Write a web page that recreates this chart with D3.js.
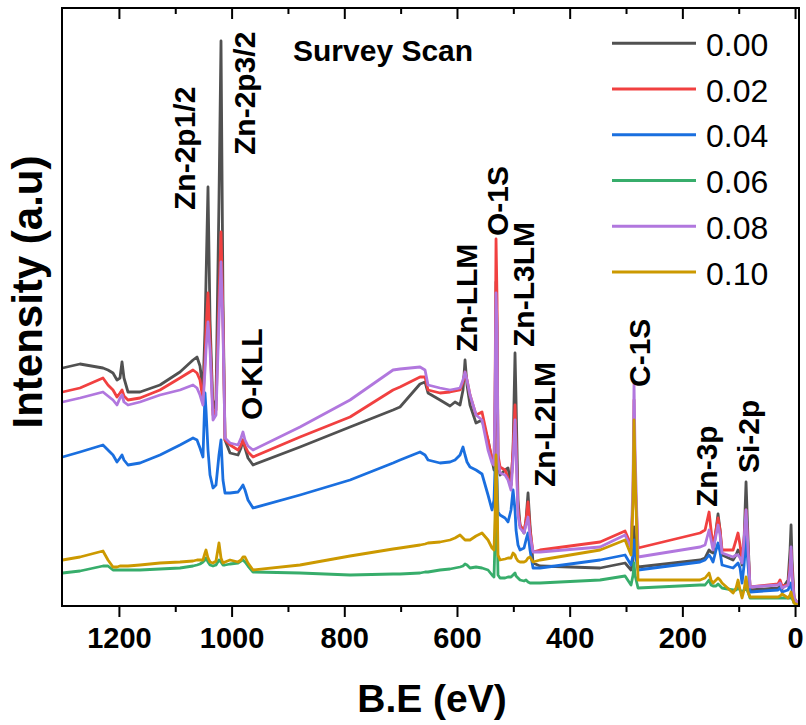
<!DOCTYPE html>
<html>
<head>
<meta charset="utf-8">
<script src="https://cdn.jsdelivr.net/npm/d3@7"></script>
<style>
  body { margin: 0; background: #fff; }
  text { font-family: "Liberation Sans", Arial, sans-serif; }
</style>
</head>
<body>
<div id="chart"></div>
<script>
// binding energy grid (eV), shared by all six spectra
const bindingEnergy = [1300, 1269.1, 1228.3, 1219.4, 1210.5, 1203.4, 1198.1, 1194.5, 1191.0, 1183.9,
  1162.6, 1127.1, 1091.6, 1068.5, 1061.4, 1056.1, 1050.8, 1047.2, 1045.4, 1041.9,
  1038.3, 1033.0, 1027.7, 1022.4, 1018.8, 1015.3, 1011.7, 1002.8, 988.6, 983.3,
  979.8, 976.2, 970.9, 962.0, 878.6, 789.8, 713.5, 701.1, 665.6, 656.7,
  651.4, 630.1, 612.4, 603.5, 594.6, 589.3, 585.7, 582.2, 576.9, 566.2,
  555.6, 544.9, 537.8, 534.3, 532.5, 530.7, 528.9, 527.2, 523.6, 514.7,
  509.4, 504.1, 500.5, 497.0, 495.2, 491.7, 488.1, 481.0, 477.5, 473.9,
  470.4, 465.0, 452.6, 346.1, 301.7, 291.1, 287.5, 285.8, 284.0, 278.7,
  168.6, 159.7, 152.6, 149.1, 145.5, 140.2, 136.7, 133.1, 129.6, 110.0,
  104.7, 101.2, 97.6, 94.1, 90.5, 87.0, 83.4, 79.9, 30.2, 26.6,
  23.1, 12.4, 8.9, 7.1, 5.3, 1.8, -5.3];

// intensities (a.u.)
const int000 = [238, 242, 238, 236, 233, 226, 228, 244, 228, 214,
  214, 221, 234, 246, 249, 240, 216, 276, 326, 419,
  286, 196, 206, 406, 565, 306, 166, 153, 151, 158,
  166, 158, 148, 141, 159, 179, 196, 199, 222, 224,
  213, 206, 200, 204, 201, 216, 246, 221, 201, 183,
  186, 166, 146, 136, 186, 324, 276, 146, 131, 136,
  138, 121, 156, 253, 206, 106, 81, 73, 86, 113,
  81, 43, 40, 38, 43, 36, 46, 79, 61, 39,
  46, 48, 56, 54, 53, 76, 92, 76, 51, 46,
  51, 56, 53, 41, 66, 124, 66, 16, 18, 20,
  17, 26, 56, 81, 46, 8, 2];

const int002 = [214, 218, 228, 221, 216, 209, 213, 216, 210, 206,
  208, 216, 228, 236, 233, 226, 206, 246, 276, 313,
  266, 191, 196, 306, 374, 286, 166, 161, 156, 161,
  166, 160, 154, 149, 169, 189, 216, 219, 229, 229,
  216, 213, 214, 215, 216, 224, 234, 226, 211, 191,
  194, 166, 146, 141, 206, 367, 306, 151, 139, 136,
  128, 121, 156, 201, 166, 96, 81, 74, 86, 104,
  76, 54, 56, 64, 75, 61, 106, 206, 126, 58,
  73, 76, 94, 76, 59, 76, 88, 76, 56, 56,
  66, 73, 61, 46, 66, 96, 56, 19, 22, 26,
  20, 21, 41, 56, 36, 8, 2];

const int004 = [149, 154, 161, 156, 151, 144, 148, 151, 146, 141,
  143, 151, 161, 168, 166, 158, 149, 213, 196, 156,
  131, 118, 121, 151, 166, 126, 113, 113, 114, 118,
  121, 116, 106, 98, 111, 126, 143, 146, 154, 151,
  146, 143, 144, 146, 151, 159, 151, 144, 139, 136,
  132, 111, 96, 106, 136, 146, 126, 94, 91, 88,
  84, 96, 116, 96, 76, 61, 56, 58, 66, 73,
  56, 38, 38, 46, 51, 41, 51, 66, 54, 36,
  44, 46, 51, 48, 44, 56, 63, 54, 41, 38,
  41, 43, 38, 23, 41, 69, 41, 14, 16, 18,
  14, 16, 21, 23, 16, 6, 2];

const int006 = [33, 35, 40, 40, 36, 36, 36, 36, 36, 36,
  36, 37, 38, 40, 41, 42, 44, 46, 48, 44,
  41, 40, 41, 46, 44, 41, 41, 42, 43, 45,
  46, 44, 40, 34, 33, 31, 32, 32, 33, 34,
  34, 36, 37, 38, 39, 40, 42, 41, 38, 39,
  38, 36, 31, 29, 66, 141, 86, 31, 28, 28,
  29, 29, 31, 33, 30, 28, 26, 25, 26, 24,
  23, 23, 23, 26, 30, 21, 31, 43, 31, 18,
  21, 21, 26, 21, 20, 20, 22, 20, 18, 16,
  16, 18, 16, 14, 16, 18, 14, 8, 8, 8,
  8, 8, 8, 8, 8, 3, 1];

const int008 = [204, 208, 214, 210, 206, 201, 208, 211, 204, 201,
  204, 211, 216, 221, 218, 211, 201, 236, 256, 284,
  256, 186, 191, 286, 344, 276, 168, 163, 161, 168,
  174, 166, 160, 156, 179, 206, 236, 237, 239, 236,
  221, 218, 216, 217, 218, 226, 234, 226, 211, 191,
  186, 156, 143, 141, 206, 313, 276, 146, 133, 131,
  126, 116, 146, 186, 156, 91, 78, 73, 81, 89,
  71, 54, 54, 59, 71, 58, 126, 223, 156, 49,
  59, 61, 76, 66, 56, 71, 81, 71, 53, 49,
  51, 51, 48, 43, 66, 96, 56, 19, 21, 23,
  18, 21, 36, 59, 31, 8, 2];

const int010 = [46, 49, 55, 46, 39, 39, 40, 40, 40, 40,
  41, 43, 44, 45, 46, 46, 46, 53, 56, 48,
  44, 43, 45, 63, 48, 43, 44, 46, 44, 46,
  49, 49, 43, 36, 41, 50, 57, 58, 61, 62,
  63, 64, 66, 68, 71, 68, 66, 66, 66, 70,
  73, 66, 58, 56, 86, 151, 116, 51, 46, 47,
  48, 48, 53, 51, 48, 45, 44, 44, 45, 48,
  49, 44, 46, 56, 66, 51, 106, 186, 136, 26,
  26, 28, 33, 26, 23, 26, 28, 26, 23, 13,
  18, 26, 16, 8, 16, 29, 14, 9, 9, 10,
  12, 8, 11, 14, 9, 3, 1];

const seriesNames = ["0.00", "0.02", "0.04", "0.06", "0.08", "0.10"];
const seriesValues = [int000, int002, int004, int006, int008, int010];
const seriesColors = ["#515151", "#F14040", "#1A6FDF", "#37AD6B", "#B177DE", "#CC9900"];

const xMajorTicks = [1200, 1000, 800, 600, 400, 200, 0];
const xMinorTicks = [1100, 900, 700, 500, 300, 100];

// peak labels: text starts at (energy, intensity) and runs upward
const peakNames = ["Zn-2p1/2", "Zn-2p3/2", "O-KLL", "Zn-LLM", "O-1S", "Zn-L3LM", "Zn-L2LM", "C-1S", "Zn-3p", "Si-2p"];
const peakEnergy = [1065.8, 958.5, 946, 564.4, 509.4, 463.3, 426, 257.4, 139.3, 64.8];
const peakLevel = [396, 451, 186, 254, 370, 259, 119, 219, 99, 133];

const width = 806;
const height = 725;
const plot = { left: 62, right: 799, top: 8, bottom: 606 };

const svg = d3.select("#chart")
  .append("svg")
  .attr("width", width)
  .attr("height", height);

const x = d3.scaleLinear().domain([1301, -7]).range([plot.left, plot.right]);
const y = d3.scaleLinear().domain([0, 598]).range([plot.bottom, plot.top]);

svg.append("clipPath").attr("id", "clip")
  .append("rect")
  .attr("x", plot.left).attr("y", plot.top)
  .attr("width", plot.right - plot.left).attr("height", plot.bottom - plot.top);

// spectra
const line = d3.line()
  .x((d, i) => x(bindingEnergy[i]))
  .y(d => y(d));

const lines = svg.append("g").attr("clip-path", "url(#clip)");
seriesValues.forEach((vals, i) => {
  lines.append("path")
    .attr("d", line(vals))
    .attr("fill", "none")
    .attr("stroke", seriesColors[i])
    .attr("stroke-width", 2.8)
    .attr("stroke-linejoin", "round");
});

// axes: bottom ticks outward with labels, top ticks inward
const bottomAxis = svg.append("g")
  .attr("transform", `translate(0,${plot.bottom})`)
  .call(d3.axisBottom(x).tickValues(xMajorTicks).tickSize(11).tickPadding(10).tickFormat(d3.format("d")));
bottomAxis.select(".domain").remove();
bottomAxis.selectAll("line").attr("stroke-width", 2);
bottomAxis.selectAll("text")
  .attr("fill", "#000")
  .style("font-size", "29px")
  .style("font-weight", "bold")
  .style("font-family", "'Liberation Sans', Arial, sans-serif");

const bottomMinor = svg.append("g")
  .attr("transform", `translate(0,${plot.bottom})`)
  .call(d3.axisBottom(x).tickValues(xMinorTicks).tickSize(6).tickFormat(""));
bottomMinor.select(".domain").remove();
bottomMinor.selectAll("line").attr("stroke-width", 2);

const topAxis = svg.append("g")
  .attr("transform", `translate(0,${plot.top})`)
  .call(d3.axisBottom(x).tickValues(xMajorTicks).tickSize(11).tickFormat(""));
topAxis.select(".domain").remove();
topAxis.selectAll("line").attr("stroke-width", 2);

const topMinor = svg.append("g")
  .attr("transform", `translate(0,${plot.top})`)
  .call(d3.axisBottom(x).tickValues(xMinorTicks).tickSize(6).tickFormat(""));
topMinor.select(".domain").remove();
topMinor.selectAll("line").attr("stroke-width", 2);

// frame
svg.append("rect")
  .attr("x", plot.left).attr("y", plot.top)
  .attr("width", plot.right - plot.left).attr("height", plot.bottom - plot.top)
  .attr("fill", "none")
  .attr("stroke", "#000")
  .attr("stroke-width", 2);

// axis titles
svg.append("text")
  .attr("x", 432).attr("y", 712)
  .attr("text-anchor", "middle")
  .style("font-size", "39px")
  .style("font-weight", "bold")
  .text("B.E (eV)");

svg.append("text")
  .attr("transform", "translate(42,292) rotate(-90)")
  .attr("text-anchor", "middle")
  .style("font-size", "42px")
  .style("font-weight", "bold")
  .text("Intensity (a.u)");

// title
svg.append("text")
  .attr("x", 293).attr("y", 61)
  .style("font-size", "30px")
  .style("font-weight", "bold")
  .text("Survey Scan");

// peak labels
peakNames.forEach((name, i) => {
  svg.append("text")
    .attr("transform", `translate(${x(peakEnergy[i])},${y(peakLevel[i])}) rotate(-90)`)
    .style("font-size", "30px")
    .style("font-weight", "bold")
    .text(name);
});

// legend
const legend = svg.append("g");
seriesNames.forEach((name, i) => {
  const ly = 43.3 + i * 45.75;
  legend.append("line")
    .attr("x1", 612).attr("x2", 696)
    .attr("y1", ly).attr("y2", ly)
    .attr("stroke", seriesColors[i])
    .attr("stroke-width", 3);
  legend.append("text")
    .attr("x", 706).attr("y", ly + 12.5)
    .style("font-size", "32px")
    .text(name);
});
</script>
</body>
</html>
